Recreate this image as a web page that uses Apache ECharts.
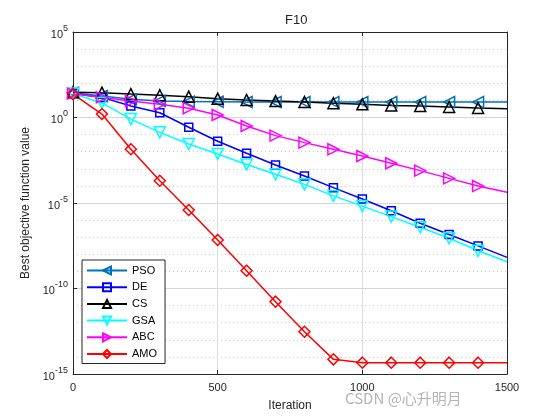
<!DOCTYPE html>
<html><head><meta charset="utf-8">
<script src="https://cdn.jsdelivr.net/npm/echarts@6/dist/echarts.min.js"></script>
<style>html,body{margin:0;padding:0;background:#fff}#c{width:560px;height:420px}</style>
</head><body><div id="c"></div>
<script>
var iterations = [0,100,200,300,400,500,600,700,800,900,1000,1100,1200,1300,1400,1500];
var pso = [28,18,11.5,9.3,8.5,8.3,8.1,8.1,8,8,8,8,8,8,8,8];
var de  = [25,15,4.7,1.9,0.27,0.041,8.1e-3,1.66e-3,3.8e-4,7.9e-5,1.7e-5,3.5e-6,6.5e-7,1.45e-7,3.1e-8,6.6e-9];
var cs  = [30,28.2,23.4,20,16.6,12.6,10.5,9.1,8.1,6.8,5.9,5.1,4.7,4.1,3.6,3.2];
var gsa = [25,7.1,0.81,0.135,0.028,7.4e-3,1.8e-3,4.8e-4,1.23e-4,2.6e-5,6.6e-6,1.6e-6,3.8e-7,8.7e-8,1.6e-8,3.7e-9];
var abc = [25,15,9.1,5.9,3.5,1.4,0.32,0.087,0.034,0.0138,5.6e-3,2.1e-3,7.8e-4,2.75e-4,9.8e-5,4.3e-5];
var amo = [23.4,1.6,0.014,2.0e-4,3.9e-6,6.9e-8,1.1e-9,1.7e-11,2.95e-13,7.2e-15,4.6e-15,4.6e-15,4.6e-15,4.6e-15,4.6e-15,4.6e-15];
var seriesNames = ['PSO','DE','CS','GSA','ABC','AMO'];
var xTicks = [0,500,1000,1500];

var defs = [
  {name:'PSO', data:pso, color:'#0072BD', symbol:'triangle', rot:90},
  {name:'DE',  data:de,  color:'#0000FF', symbol:'rect', rot:0},
  {name:'CS',  data:cs,  color:'#000000', symbol:'triangle', rot:0},
  {name:'GSA', data:gsa, color:'#00FFFF', symbol:'triangle', rot:180},
  {name:'ABC', data:abc, color:'#FF00FF', symbol:'triangle', rot:-90},
  {name:'AMO', data:amo, color:'#FF0000', symbol:'diamond', rot:0}
];
var font = 'Liberation Sans, Arial, sans-serif';
var series = defs.map(function(d){
  return {
    name:d.name, type:'line', xAxisIndex:0, yAxisIndex:0,
    symbol:d.symbol, symbolRotate:d.rot, symbolSize: d.symbol==='rect'?8:11,
    showAllSymbol:true,
    lineStyle:{color:d.color,width:1.5},
    itemStyle:{color:'rgba(255,255,255,0)',borderColor:d.color,borderWidth:1.5},
    emphasis:{disabled:true},
    data: iterations.map(function(x,i){
      var item = {value:[x,d.data[i]]};
      if (i===iterations.length-1) item.symbol='none';
      return item;
    }),
    z: 3
  };
});

var chart = echarts.init(document.getElementById('c'), null, {renderer:'canvas'});
chart.setOption({
  animation:false,
  backgroundColor:'#ffffff',
  title:{text:'F10', left:280, top:9, textStyle:{fontFamily:font,fontSize:13,fontWeight:'normal',color:'#262626'}},
  grid:{left:73,right:53,top:32,bottom:46},
  legend:{
    data:seriesNames, orient:'vertical', left:82, top:260,
    itemWidth:40, itemHeight:10, itemGap:5.7,
    backgroundColor:'#ffffff', borderColor:'#262626', borderWidth:1,
    padding:[5,8,4,4],
    textStyle:{fontFamily:font,fontSize:11,color:'#000'}
  },
  xAxis:[{
    type:'value', min:0, max:1500, interval:500,
    name:'Iteration', nameLocation:'middle', nameGap:26,
    nameTextStyle:{fontFamily:font,fontSize:12,color:'#262626'},
    axisLine:{show:true,onZero:false,lineStyle:{color:'#262626',width:1}},
    axisTick:{show:true,inside:true,length:4,lineStyle:{color:'#262626'}},
    axisLabel:{fontFamily:font,fontSize:11,color:'#262626',margin:8,
      formatter:function(v){return xTicks.indexOf(v)>=0?String(v):'';}},
    splitLine:{show:true,lineStyle:{color:'#dcdcdc',width:1}}
  },{
    type:'value', min:0, max:1500, interval:500, position:'top',
    axisLine:{show:true,onZero:false,lineStyle:{color:'#262626',width:1}},
    axisTick:{show:true,inside:true,length:4,lineStyle:{color:'#262626'}},
    axisLabel:{show:false}, splitLine:{show:false}
  }],
  yAxis:[{
    type:'log', logBase:10, min:1e-15, max:1e5, interval:5,
    name:'Best objective function value', nameLocation:'middle', nameGap:40,
    nameTextStyle:{fontFamily:font,fontSize:12,color:'#262626'},
    axisLine:{show:true,onZero:false,lineStyle:{color:'#262626',width:1}},
    axisTick:{show:true,inside:true,length:4,lineStyle:{color:'#262626'}},
    axisLabel:{margin:5,
      formatter:function(v){var e=Math.round(Math.log10(v));return '{b|10}{s|'+e+'}';},
      rich:{b:{fontFamily:font,fontSize:11,color:'#262626',padding:[5,0,0,0]},
            s:{fontFamily:font,fontSize:9,color:'#262626',verticalAlign:'top',padding:[0,0,4,0]}}},
    splitLine:{show:true,lineStyle:{color:'#dcdcdc',width:1}}
  },{
    type:'log', logBase:10, min:1e-15, max:1e5, interval:1, position:'right',
    axisLine:{show:true,onZero:false,lineStyle:{color:'#262626',width:1}},
    axisTick:{show:false}, axisLabel:{show:false},
    splitLine:{show:true,lineStyle:{color:'#c8c8c8',width:1,type:[1,3]}}
  }],
  graphic:[{type:'text', left:345, top:391, style:{text:'CSDN @心升明月', font:'15px "Noto Sans CJK SC", sans-serif', fill:'#b4b4b4'}}],
  series:series
});
</script></body></html>
